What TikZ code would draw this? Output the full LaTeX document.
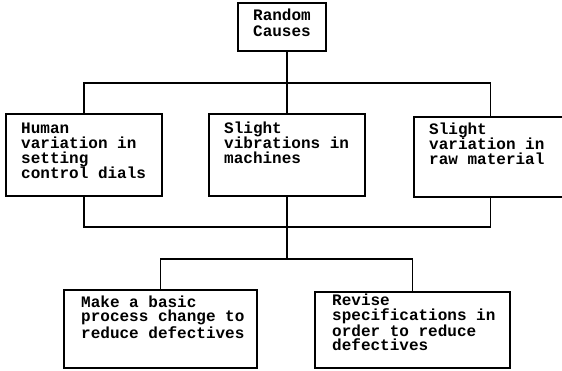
\documentclass[tikz,border=0pt]{standalone}
\usepackage{fontspec}
\setmonofont{Liberation Mono}
\begin{document}
\begin{tikzpicture}[x=1pt,y=-1pt,
  box/.style={draw,line width=1.1pt,inner sep=0pt},
  txt/.style={font=\ttfamily\bfseries\fontsize{16}{15}\selectfont,
    inner sep=0pt,align=left,anchor=base west},
  tight/.style={font=\ttfamily\bfseries\fontsize{16}{14.5}\selectfont},
  link/.style={line width=1.1pt}]
  \clip (0,0) rectangle (562,371);
  \fill[white] (0,0) rectangle (562,371);

  % boxes
  \node[box,minimum width=88pt,minimum height=48pt]  (top) at (282,27)    {};
  \node[box,minimum width=156pt,minimum height=82pt] (b1)  at (84,155)    {};
  \node[box,minimum width=156pt,minimum height=82pt] (b2)  at (287,155)   {};
  \node[box,minimum width=153pt,minimum height=80pt] (b3)  at (490.5,157) {};
  \node[box,minimum width=193pt,minimum height=78pt] (c1)  at (160.5,329) {};
  \node[box,minimum width=195pt,minimum height=76pt] (c2)  at (412.5,330) {};

  % box texts (placed by the baseline of their last line)
  \node[txt,align=center,anchor=base] (ttop) at (282,37) {Random\\[1pt]Causes};
  \node[txt] (tb1) at (21,179)  {Human\\variation in\\setting\\control dials};
  \node[txt] (tb2) at (224,164) {Slight\\vibrations in\\machines};
  \node[txt] (tb3) at (429,165) {Slight\\variation in\\raw material};
  \node[txt,tight] (tc1) at (81,338)
    {Make a basic\\process change to\\reduce defectives};
  \node[txt,tight] (tc2) at (332,350.5)
    {Revise\\specifications in\\order to reduce\\defectives};

  % junctions
  \coordinate (j1) at (287,83);
  \coordinate (j2) at (287,227);
  \coordinate (j3) at (287,259);

  % connectors
  \draw[link] (j1 |- top.south) -- (j1);
  \draw[link] (b1.north) |- (j1) -| (b3.north);
  \draw[link] (j1) -- (b2.north);
  \draw[link] (b1.south) |- (j2) -| (b3.south);
  \draw[link] (b2.south) -- (j3);
  \draw[link] (c1.north) |- (j3) -| (c2.north);
\end{tikzpicture}
\end{document}
